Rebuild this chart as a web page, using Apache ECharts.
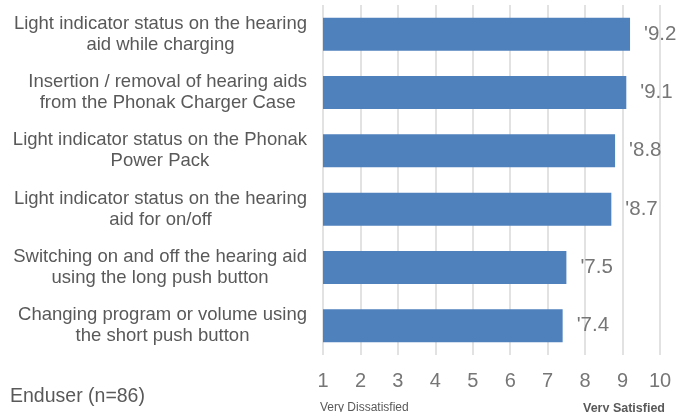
<!DOCTYPE html>
<html>
<head>
<meta charset="utf-8">
<script src="https://cdn.jsdelivr.net/npm/echarts@6/dist/echarts.min.js"></script>
<style>
  html, body { margin: 0; padding: 0; background: #fff; }
  #chart { width: 680px; height: 412px; }
</style>
</head>
<body>
<div id="chart"></div>
<script>
  // satisfaction items, top to bottom
  const categories = [
    'Light indicator status on the hearing\naid while charging',
    'Insertion / removal of hearing aids\nfrom the Phonak Charger Case',
    'Light indicator status on the Phonak\nPower Pack',
    'Light indicator status on the hearing\naid for on/off',
    'Switching on and off the hearing aid\nusing the long push button',
    'Changing program or volume using\nthe short push button'
  ]
  const scores = [9.2, 9.1, 8.8, 8.7, 7.5, 7.4]
  const scaleMin = 1
  const scaleMax = 10

  const font = '"Liberation Sans", Arial, sans-serif'
  const grey = '#595959'
  const lightGrey = '#767676'

  let elem = echarts.init(document.getElementById('chart'))
  let option = {
    animation: false,
    grid: {
      left: 323,
      right: 20,
      top: 5,
      bottom: 57
    },
    xAxis: {
      type: 'value',
      min: scaleMin,
      max: scaleMax,
      interval: 1,
      axisLine: { show: false },
      axisTick: { show: false },
      splitLine: { show: true, lineStyle: { color: '#d9d9d9', width: 1.5 } },
      axisLabel: {
        color: lightGrey,
        fontSize: 20,
        fontFamily: font,
        margin: 16
      }
    },
    yAxis: {
      type: 'category',
      inverse: true,
      data: categories,
      axisLine: { show: false },
      axisTick: { show: false },
      axisLabel: {
        margin: 16,
        formatter: function (v) {
          return v.split('\n').map(function (s) { return '{c|' + s + '}' }).join('\n')
        },
        rich: {
          c: {
            align: 'center',
            color: grey,
            fontSize: 18.5,
            fontFamily: font,
            lineHeight: 21
          }
        }
      }
    },
    series: [
      {
        type: 'bar',
        data: scores,
        barWidth: 33,
        itemStyle: { color: '#4f81bd' },
        label: {
          show: true,
          position: 'right',
          distance: 14,
          color: lightGrey,
          fontSize: 20.5,
          fontFamily: font,
          formatter: function (p) { return "'" + p.value.toFixed(1) }
        }
      }
    ],
    graphic: [
      {
        type: 'text',
        left: 10,
        top: 387,
        style: { text: 'Enduser (n=86)', fill: grey, font: '19.5px ' + font }
      },
      {
        type: 'text',
        left: 320,
        top: 402,
        style: { text: 'Very Dissatisfied', fill: grey, font: '12px ' + font }
      },
      {
        type: 'text',
        left: 583,
        top: 402,
        style: { text: 'Very Satisfied', fill: grey, font: 'bold 12.5px ' + font }
      }
    ]
  }
  elem.setOption(option)
</script>
</body>
</html>
